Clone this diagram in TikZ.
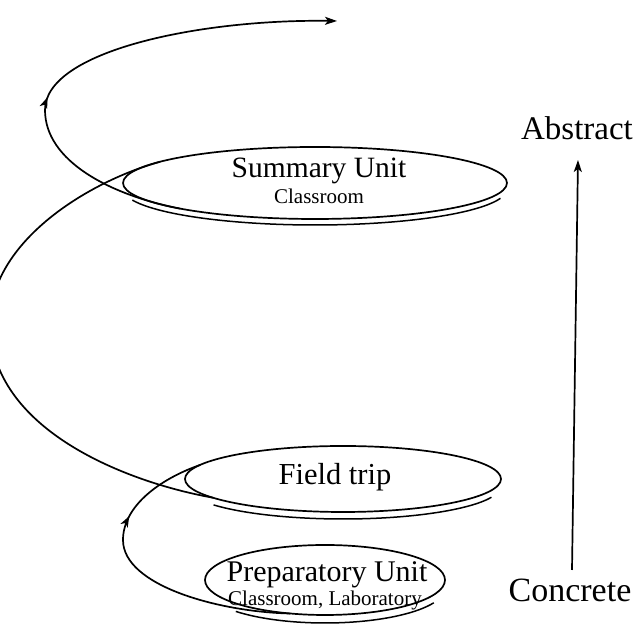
\documentclass[tikz,border=0pt]{standalone}
\usepackage{fontspec}
\setmainfont{Liberation Serif}
\usetikzlibrary{shapes.geometric,arrows.meta,decorations.markings}
\begin{document}
\begin{tikzpicture}[x=1pt,y=1pt,
  unitbox/.style={ellipse, draw, line width=1.7pt, inner sep=0pt, outer sep=0pt},
  shadowline/.style={line width=1.5pt},
  spiral/.style={line width=1.7pt, line cap=round},
  txt/.style={anchor=base, inner sep=0pt},
  midarrow/.style={postaction={decorate}, decoration={markings, mark=at position #1 with {\arrow{Stealth[length=11pt,width=8pt,inset=3pt]}}}}]
\useasboundingbox (0,0) rectangle (641,631);

% ellipses
\node[unitbox, minimum width=384pt, minimum height=72pt] (sum) at (315,448) {};
\node[unitbox, minimum width=316pt, minimum height=66pt] (fld) at (343,152) {};
\node[unitbox, minimum width=240pt, minimum height=70pt] (prep) at (325,51) {};

% shadow lines
\draw[shadowline] ([yshift=-6pt]sum.center) ++(198:192 and 36) arc[start angle=198, end angle=345, x radius=192, y radius=36];
\draw[shadowline] ([yshift=-7pt]fld.center) ++(215:158 and 33) arc[start angle=215, end angle=340, x radius=158, y radius=33];
\draw[shadowline] ([yshift=-8pt]prep.center) ++(222:120 and 35) arc[start angle=222, end angle=335, x radius=120, y radius=35];

% texts
\node[txt, font=\fontsize{29.5}{30}\selectfont] (sumt) at (319,453) {Summary Unit};
\node[txt, font=\fontsize{21}{22}\selectfont] (sumc) at (319,427) {Classroom};
\node[txt, font=\fontsize{30.5}{31}\selectfont] (fldt) at (335,146) {Field trip};
\node[txt, font=\fontsize{30}{31}\selectfont] (prept) at (327,49) {Preparatory Unit};
\node[txt, font=\fontsize{21}{22}\selectfont] (prepc) at (325,25) {Classroom, Laboratory};
\node[txt, font=\fontsize{33}{34}\selectfont] (abs) at (577,491) {Abstract};
\node[txt, font=\fontsize{34}{35}\selectfont] (con) at (570,29) {Concrete};

% spiral coordinates
\coordinate (a0) at (290,17.5);
\coordinate (a1) at (123,91);
\coordinate (b1) at (200,166);
\coordinate (c0) at (213,133.3);
\coordinate (c1) at (160,469.2);
\coordinate (d0) at (180,422.4);
\coordinate (d1) at (45,521);
\coordinate (d2) at (337,610);

% spiral
\draw[spiral] (a0) .. controls (220,19) and (123,45) .. (a1);
\draw[spiral, midarrow=25pt] (a1) .. controls (123,125) and (160,152) .. (b1);
\draw[spiral] (c0) .. controls (130,148) and (-10,200) .. (-10,308)
  .. controls (-10,390) and (90,450) .. (c1);
\draw[spiral] (d0) .. controls (110,436) and (45,470) .. (d1);
\draw[spiral, midarrow=13pt, -{Stealth[length=12pt,width=8pt,inset=3pt]}] (d1) .. controls (45,580) and (200,612) .. (d2);

% axis
\coordinate (axb) at (572,61);
\coordinate (axt) at (578,471);
\draw[line width=1.7pt, -{Stealth[length=12pt,width=8pt,inset=3pt]}] (axb) -- (axt);
\end{tikzpicture}
\end{document}
